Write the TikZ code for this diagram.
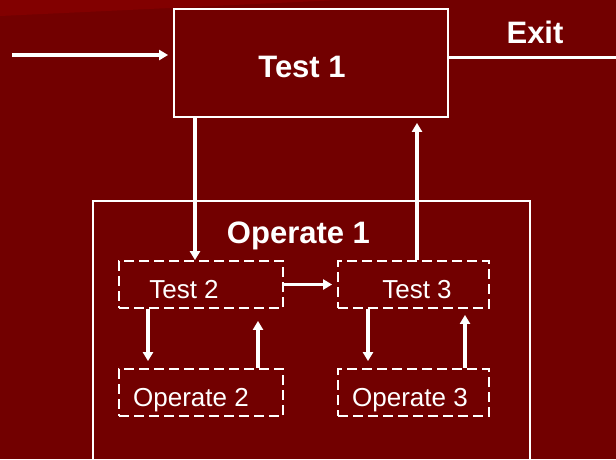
\documentclass[tikz,border=0pt]{standalone}
\usepackage{fontspec}
\setmainfont{Liberation Sans}
\usetikzlibrary{arrows.meta}
\definecolor{slidered}{RGB}{114,0,0}
\definecolor{bandred}{RGB}{130,0,0}

\begin{document}
\begin{tikzpicture}
      [   x=1pt,y=-1pt,
          box/.style={draw=white,line width=1.8pt,inner sep=0pt,minimum width=#1},
          dbox/.style={draw=white,line width=1.8pt,dash pattern=on 10pt off 5pt,inner sep=0pt,
                       minimum width=#1,minimum height=47pt},
          txt/.style={text=white,font=\fontsize{26}{30}\selectfont,anchor=base},
          btxt/.style={text=white,font=\bfseries\fontsize{31}{36}\selectfont,anchor=base},
          arr/.style={draw=white,line width=3.2pt,-{Triangle[length=9pt,width=10pt]}},
          ln/.style={draw=white,line width=3pt},
      ]
          % slide background
          \fill[slidered] (0,0) rectangle (616,459);
          \fill[bandred] (0,0) -- (0,16) -- (340,0) -- cycle;
          \useasboundingbox (0,0) rectangle (616,459);

          \node[box=274pt,minimum height=108pt] (test1) at (311,63) {};
          \node[btxt] (test1-t) at (302,77) {Test 1};
          \node[btxt] (exit) at (535,43) {Exit};
          \node[box=437pt,minimum height=269pt] (op1) at (311.5,335.5) {};
          \node[btxt] (op1-t) at (298.5,243) {Operate 1};

          \node[dbox=164pt] (t2) at (201,284.5) {};
          \node[dbox=151pt] (t3) at (413.5,284.5) {};
          \node[dbox=164pt] (op2) at (201,392.5) {};
          \node[dbox=151pt] (op3) at (413.5,392.5) {};
          \node[txt] (t2-t) at (184,298) {Test 2};
          \node[txt] (t3-t) at (417,298) {Test 3};
          \node[txt] (op2-t) at (191,406) {Operate 2};
          \node[txt] (op3-t) at (410,406) {Operate 3};

          % free ends and columns
          \coordinate (in) at (12,55);
          \coordinate (out) at (616,57);
          \coordinate (c1) at (195,0);
          \coordinate (c2) at (417,0);
          \coordinate (c3) at (148,0);
          \coordinate (c4) at (258,0);
          \coordinate (c5) at (368,0);
          \coordinate (c6) at (465,0);

          \draw[arr,shorten >=5pt] (in) -- (in -| test1.west);
          \draw[ln] (out -| test1.east) -- (out);
          \draw[arr] (test1.south -| c1) -- (t2.north -| c1);
          \draw[arr,shorten >=5pt] (t3.north -| c2) -- (test1.south -| c2);
          \draw[arr,shorten >=5pt] (t2) -- (t3);
          \foreach \c/\a/\b in {c3/t2/op2,c5/t3/op3}
          {   \draw[arr,shorten >=7pt] (\a.south -| \c) -- (\b.north -| \c);
          }
          \draw[arr,shorten >=12pt] (op2.north -| c4) -- (t2.south -| c4);
          \draw[arr,shorten >=6pt] (op3.north -| c6) -- (t3.south -| c6);
    \end{tikzpicture}
\end{document}
